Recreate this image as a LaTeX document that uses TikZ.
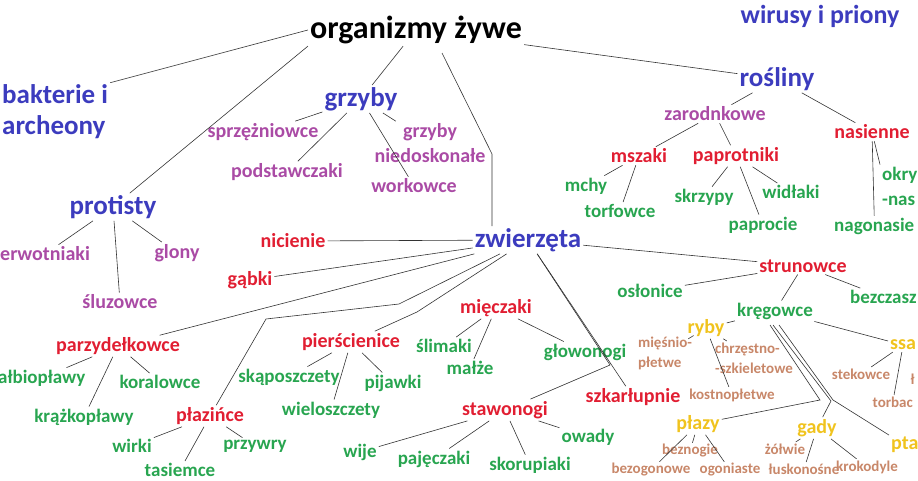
\documentclass[tikz,border=0pt]{standalone}
\usepackage{fontspec}
\setmainfont{Carlito}
\usetikzlibrary{positioning}
\definecolor{kblue}{RGB}{60,60,190}
\definecolor{kpurple}{RGB}{170,75,165}
\definecolor{kred}{RGB}{225,30,50}
\definecolor{kgreen}{RGB}{40,165,80}
\definecolor{kyellow}{RGB}{240,195,30}
\definecolor{ktan}{RGB}{200,135,105}
\tikzset{
  root/.style={font=\bfseries\fontsize{32}{34}\selectfont, inner sep=2pt},
  kingdom/.style={text=kblue, font=\bfseries\fontsize{27}{31}\selectfont, inner sep=2pt},
  group/.style={text=kpurple, font=\bfseries\fontsize{20}{22}\selectfont, inner sep=2pt},
  phylum/.style={text=kred, font=\bfseries\fontsize{20}{22}\selectfont, inner sep=2pt},
  klass/.style={text=kgreen, font=\bfseries\fontsize{19}{25}\selectfont, inner sep=2pt},
  vert/.style={text=kyellow, font=\bfseries\fontsize{20}{22}\selectfont, inner sep=2pt},
  sub/.style={text=ktan, font=\bfseries\fontsize{15}{20}\selectfont, inner sep=1.5pt},
  link/.style={draw=black!80, line width=0.6pt}
}
\begin{document}
\begin{tikzpicture}[x=1pt, y=-1pt]
        \useasboundingbox (0,0) rectangle (918,481);
        \clip (0,0) rectangle (918,481);

        % top level
        \node[root] (org) at (416,30) {organizmy żywe};
        \node[kingdom, font=\bfseries\fontsize{26}{28}\selectfont] (wir) at (820,16) {wirusy i priony};
        \node[kingdom, anchor=west, align=left] (bakt) at (0,112) {bakterie i\\archeony};
        \node[kingdom] (grzyby) at (361,99) {grzyby};
        \node[kingdom] (rosl) at (777,79) {rośliny};
        \node[kingdom] (prot) at (113,207) {protisty};
        \node[kingdom] (zw) at (528,240) {zwierzęta};

        % grzyby
        \node[group] (sprz) at (263,132) {sprzężniowce};
        \node[group] (podst) at (287,172) {podstawczaki};
        \node[group] (work) at (414,186) {workowce};
        \node[group, align=center, font=\bfseries\fontsize{20}{25}\selectfont] (niedo) at (430,143) {grzyby\\niedoskonałe};

        % protisty
        \node[group, anchor=west] (pierw) at (-2,254) {erwotniaki};
        \node[group] (glony) at (177,253) {glony};
        \node[group] (sluz) at (120,302) {śluzowce};

        % rosliny
        \node[group] (zarod) at (715,114) {zarodnkowe};
        \node[phylum] (nas) at (872,132) {nasienne};
        \node[phylum] (mszaki) at (639,156) {mszaki};
        \node[phylum] (papr) at (736,156) {paprotniki};
        \node[klass] (mchy) at (586,186) {mchy};
        \node[klass] (torf) at (620,211) {torfowce};
        \node[klass] (skrz) at (704,197) {skrzypy};
        \node[klass] (widl) at (791,192) {widłaki};
        \node[klass] (papc) at (763,225) {paprocie};
        \node[klass, anchor=west, align=left] (okry) at (880,186) {okry\\-nas};
        \node[klass, anchor=west] (nago) at (832,226) {nagonasie};

        % zwierzeta
        \node[phylum] (nic) at (293,241) {nicienie};
        \node[phylum] (gab) at (250,280) {gąbki};
        \node[phylum] (parz) at (118,346) {parzydełkowce};
        \node[klass, anchor=west] (krazb) at (-4,378) {ałbiopławy};
        \node[klass] (koral) at (160,382) {koralowce};
        \node[klass] (krazk) at (84,417) {krążkopławy};
        \node[phylum] (plaz) at (210,416) {płazińce};
        \node[klass] (wirki) at (132,446) {wirki};
        \node[klass] (tas) at (180,470) {tasiemce};
        \node[klass] (przy) at (255,446) {przywry};
        \node[phylum] (piersc) at (351,342) {pierścienice};
        \node[klass] (skap) at (289,377) {skąposzczety};
        \node[klass] (wielo) at (331,410) {wieloszczety};
        \node[klass] (pij) at (393,383) {pijawki};
        \node[phylum] (miecz) at (496,308) {mięczaki};
        \node[klass] (slim) at (444,346) {ślimaki};
        \node[klass] (malze) at (470,368) {małże};
        \node[klass] (glow) at (585,352) {głowonogi};
        \node[phylum] (staw) at (505,410) {stawonogi};
        \node[klass] (wije) at (360,452) {wije};
        \node[klass] (paj) at (434,459) {pajęczaki};
        \node[klass] (skor) at (530,465) {skorupiaki};
        \node[klass] (owady) at (588,437) {owady};
        \node[phylum] (szk) at (633,397) {szkarłupnie};

        % strunowce
        \node[phylum] (strun) at (803,266) {strunowce};
        \node[klass] (oslon) at (650,291) {osłonice};
        \node[klass, anchor=west] (bezcz) at (848,297) {bezczasz};
        \node[klass] (kreg) at (775,311) {kręgowce};
        \node[vert] (ryby) at (706,328) {ryby};
        \node[sub, align=left, font=\bfseries\fontsize{15}{20}\selectfont] (miesn) at (665,353) {mięśnio-\\płetwe};
        \node[sub, align=left, font=\bfseries\fontsize{15}{20}\selectfont] (chrz) at (754,358) {chrzęstno-\\-szkieletowe};
        \node[sub] (kost) at (732,395) {kostnopłetwe};
        \node[vert, anchor=west] (ssaki) at (888,345) {ssa};
        \node[sub] (stek) at (861,374) {stekowce};
        \node[sub, anchor=west] (lozy) at (909,379) {ł};
        \node[sub, anchor=west] (torb) at (871,402) {torbac};
        \node[vert] (plazy) at (698,424) {płazy};
        \node[sub] (bezn) at (690,451) {beznogie};
        \node[sub] (bezog) at (651,470) {bezogonowe};
        \node[sub] (ogon) at (730,470) {ogoniaste};
        \node[vert] (gady) at (817,428) {gady};
        \node[sub] (zolw) at (785,449) {żółwie};
        \node[sub] (lusk) at (804,469) {łuskonośne};
        \node[sub] (krok) at (867,467) {krokodyle};
        \node[vert, anchor=west] (ptaki) at (889,445) {pta};

        % bends of the long connectors
        \coordinate (bzw) at (492,154);
        \coordinate (bpl1) at (399,304);
        \coordinate (bpl2) at (266,319);
        \coordinate (bpi) at (417,312);
        \coordinate (bst) at (610,365);
        \coordinate (bpz) at (820,400);
        \coordinate (bgd) at (831,401);
        \coordinate (bpt) at (833,400);

        % connectors
        \draw[link] (org.west) -- (bakt.north east);
        \draw[link] (org.south west) -- (prot);
        \draw[link] (org) -- (grzyby);
        \draw[link] (org) -- (rosl);
        \draw[link] (442,53) -- (bzw) -- (bzw |- zw.north);
        \foreach \t in {sprz,podst,work,niedo} \draw[link] (grzyby) -- (\t);
        \foreach \t in {pierw,glony,sluz} \draw[link] (prot) -- (\t);
        \foreach \t in {zarod,nas} \draw[link] (rosl) -- (\t);
        \foreach \t in {mszaki,papr} \draw[link] (zarod) -- (\t);
        \foreach \t in {mchy,torf} \draw[link] (mszaki) -- (\t);
        \foreach \t in {skrz,papc,widl} \draw[link] (papr) -- (\t);
        \draw[link] (nas) -- (okry.north west);
        \draw[link] (nas) -- (nago.north);
        \foreach \t in {nic,gab,parz,szk,strun} \draw[link] (zw) -- (\t);
        \draw[link] (zw) -- (bpl1) -- (bpl2) -- (plaz);
        \draw[link] (zw) -- (bpi) -- (piersc);
        \draw[link] (zw) -- (bst) -- (staw);
        \foreach \t in {krazb,koral,krazk} \draw[link] (parz) -- (\t);
        \foreach \t in {wirki,tas,przy} \draw[link] (plaz) -- (\t);
        \foreach \t in {skap,wielo,pij} \draw[link] (piersc) -- (\t);
        \foreach \t in {slim,malze,glow} \draw[link] (miecz) -- (\t);
        \foreach \t in {wije,paj,skor,owady} \draw[link] (staw) -- (\t);
        \foreach \t in {oslon,kreg,bezcz} \draw[link] (strun) -- (\t);
        \draw[link] (kreg) -- (ryby);
        \draw[link] (kreg) -- (ssaki);
        \draw[link] (770,325) -- (bpz) -- (plazy);
        \draw[link] (773,325) -- (bgd) -- (gady);
        \draw[link] (779,325) -- (bpt) -- (ptaki);
        \foreach \t in {miesn,chrz,kost} \draw[link] (ryby) -- (\t);
        \foreach \t in {stek,torb} \draw[link] (ssaki) -- (\t);
        \foreach \t in {bezn,bezog,ogon} \draw[link] (plazy) -- (\t);
        \foreach \t in {zolw,lusk,krok} \draw[link] (gady) -- (\t);
    \end{tikzpicture}
\end{document}
